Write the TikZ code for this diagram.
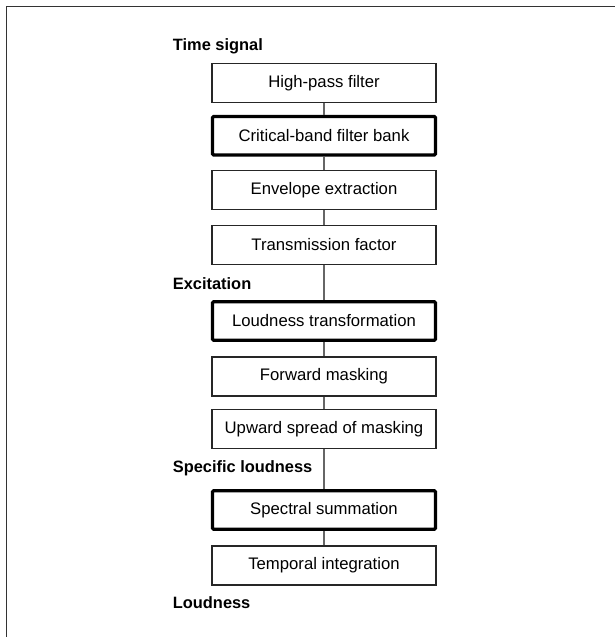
\documentclass[tikz,border=0pt]{standalone}
\usepackage{fontspec}
\setmainfont{Liberation Sans}
\begin{document}
\begin{tikzpicture}[x=1pt,y=-1pt,
  stage/.style={draw=black!85, line width=1.2pt, minimum width=224pt, minimum height=39pt,
    inner sep=0pt, font=\fontsize{16.7}{20}\selectfont},
  keystage/.style={stage, draw=black, line width=3.2pt, rounded corners=1.2pt, minimum width=223pt, minimum height=38.5pt},
  lbl/.style={anchor=base west, inner sep=0pt, font=\fontsize{16.4}{20}\selectfont\bfseries},
  conn/.style={draw=black!60, line width=1.1pt}]
\useasboundingbox (0,0) rectangle (615,637);
\draw[black!80, line width=1.4pt] (6.7,637) -- (6.7,6.7) -- (615,6.7);
\node[lbl] (ts) at (172.7,50.7) {Time signal};
\node[stage] (hp) at (324,82.7) {High-pass filter};
\node[keystage] (cb) at (324,135.7) {Critical-band filter bank};
\node[stage] (ee) at (324,190) {Envelope extraction};
\node[stage] (tf) at (324,245) {Transmission factor};
\node[lbl] (ex) at (172.7,289.3) {Excitation};
\node[keystage] (lt) at (324,321) {Loudness transformation};
\node[stage] (fm) at (324,376.5) {Forward masking};
\node[stage] (uw) at (324,428.7) {Upward spread of masking};
\node[lbl] (sl) at (172.7,472.7) {Specific loudness};
\node[keystage] (ss) at (324,510) {Spectral summation};
\node[stage] (ti) at (324,565.5) {Temporal integration};
\node[lbl] (ld) at (172.7,608.3) {Loudness};
\draw[conn] (hp.south) -- (cb.north);
\draw[conn] (cb.south) -- (ee.north);
\draw[conn] (ee.south) -- (tf.north);
\draw[conn] (tf.south) -- (lt.north);
\draw[conn] (lt.south) -- (fm.north);
\draw[conn] (fm.south) -- (uw.north);
\draw[conn] (uw.south) -- (ss.north);
\draw[conn] (ss.south) -- (ti.north);
\end{tikzpicture}
\end{document}
